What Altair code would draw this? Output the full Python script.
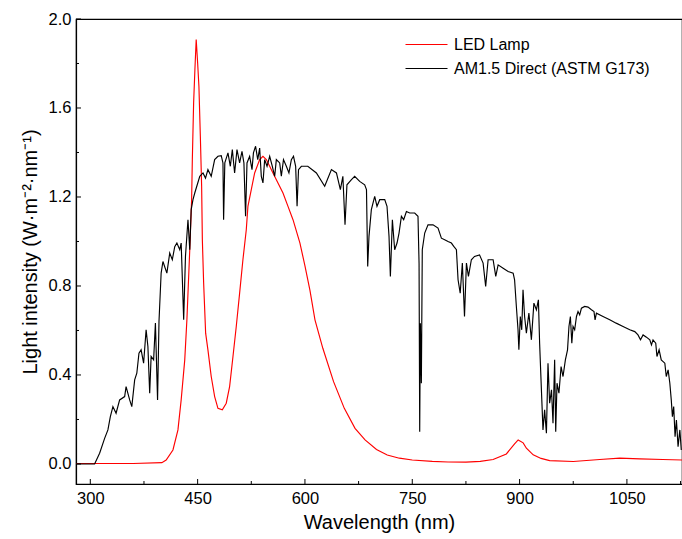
import altair as alt
import pandas as pd

# AM1.5 Direct (ASTM G173)
am_nm = [280, 300, 306, 313, 320, 324.6, 328, 331.6, 336, 341, 348, 350, 355, 358, 362, 365, 368, 371, 374.5, 378,
         380.5, 383, 385, 388.5, 391, 394, 396, 399, 401.5, 407, 411, 414.6, 418, 421, 425, 427, 430.5, 433, 436.5, 439,
         441, 443.5, 446, 453, 457.5, 461, 464.4, 469, 473.8, 478.4, 483, 485.4, 486.3, 488, 492.4, 495.7, 498.5, 501.7, 505, 508.7,
         512, 514.7, 517, 519, 522.7, 526, 528, 531, 534, 536.7, 539, 541.3, 543.7, 547, 550.7, 554.4, 557.7, 560, 564.7, 567,
         570, 574, 577.6, 581, 584, 587, 589, 591, 595, 604, 616, 627.6, 637, 644, 649.5, 653, 656, 658.7, 665, 669.5,
         676.5, 683.5, 686, 687.7, 689.5, 692.8, 697.5, 700.7, 704.5, 711.5, 714.7, 717.5, 719.4, 722.2, 725.4, 728.7, 731.5, 734.8, 738, 741.8,
         746.4, 753.4, 758, 759.5, 760.4, 761.3, 762.7, 764, 767.4, 772, 779, 786, 790.7, 795.3, 800, 804.7, 808, 811.7, 814, 817,
         820, 823, 825.7, 828.5, 832.6, 837, 844, 849, 852.6, 856, 863, 866.7, 870, 877, 884, 891, 893, 895.5, 897.8, 899,
         901, 903, 904.8, 907, 909.5, 913, 916.5, 920, 923.5, 926.3, 928, 930.5, 932.7, 935, 937.5, 939.7, 942, 944.6, 946.7, 949,
         950.5, 952.3, 955, 958, 960.7, 964, 967, 969, 971, 973, 974.7, 977, 979.5, 981.7, 984, 986.4, 991, 995.7, 1000.4, 1004,
         1005.5, 1007.4, 1016.6, 1026, 1035, 1044.6, 1054, 1061, 1065.5, 1069, 1072.6, 1077.3, 1082, 1084.3, 1086.5, 1090.3, 1092, 1095, 1098, 1103,
         1105, 1107.6, 1110, 1112, 1113.6, 1115.4, 1117.3, 1119.2, 1121.5, 1124, 1126]
am_val = [0.0, 0.0, 0.0, 0.048, 0.115, 0.153, 0.213, 0.258, 0.228, 0.288, 0.303, 0.348, 0.288, 0.258, 0.378, 0.408, 0.498, 0.513, 0.453, 0.603,
          0.528, 0.318, 0.483, 0.468, 0.633, 0.288, 0.64, 0.858, 0.91, 0.858, 0.948, 0.918, 0.977, 0.993, 0.963, 0.993, 0.648, 0.933, 1.098, 0.963,
          1.143, 1.188, 1.218, 1.293, 1.308, 1.285, 1.323, 1.293, 1.368, 1.383, 1.386, 1.353, 1.098, 1.353, 1.398, 1.338, 1.413, 1.308, 1.413, 1.353,
          1.405, 1.353, 1.113, 1.353, 1.383, 1.323, 1.398, 1.428, 1.368, 1.42, 1.293, 1.263, 1.368, 1.338, 1.383, 1.338, 1.293, 1.368, 1.353, 1.293,
          1.368, 1.338, 1.308, 1.368, 1.383, 1.338, 1.158, 1.323, 1.338, 1.338, 1.308, 1.248, 1.323, 1.308, 1.233, 1.293, 1.075, 1.255, 1.278, 1.293,
          1.27, 1.255, 1.233, 0.888, 1.023, 1.143, 1.203, 1.158, 1.188, 1.188, 1.158, 1.023, 0.843, 1.098, 0.963, 0.993, 1.038, 1.113, 1.098, 1.135,
          1.128, 1.128, 1.113, 0.9, 0.145, 0.633, 0.363, 0.963, 1.038, 1.075, 1.075, 1.06, 1.015, 1.008, 1.0, 0.993, 0.978, 0.963, 0.828, 0.768,
          0.903, 0.663, 0.903, 0.843, 0.918, 0.933, 0.94, 0.903, 0.798, 0.918, 0.918, 0.843, 0.895, 0.88, 0.865, 0.858, 0.828, 0.708, 0.603, 0.513,
          0.663, 0.603, 0.783, 0.663, 0.588, 0.678, 0.558, 0.723, 0.693, 0.738, 0.543, 0.333, 0.153, 0.243, 0.138, 0.453, 0.273, 0.333, 0.183, 0.468,
          0.145, 0.363, 0.318, 0.438, 0.393, 0.468, 0.513, 0.618, 0.663, 0.543, 0.618, 0.603, 0.663, 0.685, 0.67, 0.7, 0.708, 0.705, 0.693, 0.685,
          0.648, 0.678, 0.663, 0.648, 0.633, 0.618, 0.603, 0.595, 0.58, 0.558, 0.58, 0.57, 0.558, 0.535, 0.558, 0.543, 0.483, 0.513, 0.468, 0.453,
          0.393, 0.423, 0.363, 0.288, 0.213, 0.258, 0.123, 0.198, 0.078, 0.153, 0.063]

# LED lamp
led_nm = [280, 320, 360, 400, 406, 415.5, 422.5, 427, 432, 435, 439, 441.6, 442.6, 444.4, 446.2, 448, 450, 451.8, 453.8, 455.6,
          456.6, 458.4, 461.2, 464.4, 469, 473.8, 478.4, 484.5, 490, 494.7, 499.4, 504, 508.7, 513.3, 518, 520.3, 525, 529.7, 536.7, 541.3,
          546, 550.7, 555.3, 562.3, 569.3, 576.3, 583.3, 593, 600, 607, 614, 625, 640, 655, 670, 684, 700, 715, 732, 750,
          778, 800, 825, 845, 863, 881.5, 893, 898, 905, 909.5, 919, 930, 942, 975, 1012, 1040, 1068, 1100, 1127]
led_val = [0.002, 0.002, 0.002, 0.006, 0.018, 0.063, 0.153, 0.288, 0.468, 0.648, 0.963, 1.188, 1.368, 1.623, 1.773, 1.908, 1.803, 1.698, 1.473, 1.248,
           1.008, 0.813, 0.588, 0.513, 0.393, 0.303, 0.25, 0.243, 0.273, 0.348, 0.483, 0.618, 0.768, 0.918, 1.053, 1.158, 1.233, 1.308, 1.368, 1.383,
           1.368, 1.338, 1.308, 1.263, 1.218, 1.158, 1.098, 0.993, 0.89, 0.78, 0.648, 0.52, 0.37, 0.25, 0.16, 0.108, 0.065, 0.04, 0.026, 0.018,
           0.012, 0.009, 0.008, 0.012, 0.02, 0.045, 0.09, 0.108, 0.095, 0.071, 0.041, 0.025, 0.015, 0.011, 0.02, 0.026, 0.023, 0.02, 0.018]

series_names = ["LED Lamp", "AM1.5 Direct (ASTM G173)"]
series_colors = ["#ff0000", "#000000"]

x_major = [300, 450, 600, 750, 900, 1050]
x_minor = [375, 525, 675, 825, 975, 1125]
y_major = [0.0, 0.4, 0.8, 1.2, 1.6, 2.0]
y_minor = [0.2, 0.6, 1.0, 1.4, 1.8]

FONT = "Liberation Sans"
W, H = 606, 465

df = pd.concat([
    pd.DataFrame({"nm": led_nm, "val": led_val, "series": series_names[0], "order": range(len(led_nm))}),
    pd.DataFrame({"nm": am_nm, "val": am_val, "series": series_names[1], "order": range(len(am_nm))}),
])

xscale = alt.Scale(domain=[280, 1127], nice=False, zero=False)
yscale = alt.Scale(domain=[-0.09, 2.0], nice=False, zero=False)

lines = alt.Chart(df).mark_line(strokeWidth=1.15, clip=True).encode(
    x=alt.X("nm:Q", scale=xscale,
            axis=alt.Axis(values=x_major, format="d", title="Wavelength (nm)", ticks=False, labelPadding=6,
                          titleY=38, titleBaseline="middle", grid=False)),
    y=alt.Y("val:Q", scale=yscale,
            axis=alt.Axis(values=y_major, format=".1f", title="Light intensity (W·m⁻²·nm⁻¹)", ticks=False,
                          labelPadding=5, titleX=-46, titleY=H / 2, titleAngle=-90, titleBaseline="middle",
                          titleAlign="center", grid=False)),
    color=alt.Color("series:N", scale=alt.Scale(domain=series_names, range=series_colors),
                    legend=alt.Legend(title=None, orient="none", legendX=339, legendY=14,
                                      symbolType="M-2,0L2,0", symbolSize=441, symbolStrokeWidth=1.2,
                                      labelFontSize=16, labelFont=FONT, rowPadding=4, labelOffset=16,
                                      labelLimit=0, padding=0)),
    order="order:Q",
)

ymaj = alt.Chart(pd.DataFrame({"v": y_major})).mark_rule(color="black", strokeWidth=1).encode(
    y=alt.Y("v:Q", scale=yscale), x=alt.value(0), x2=alt.value(5))
ymin = alt.Chart(pd.DataFrame({"v": y_minor})).mark_rule(color="black", strokeWidth=1).encode(
    y=alt.Y("v:Q", scale=yscale), x=alt.value(0), x2=alt.value(3))
xmaj = alt.Chart(pd.DataFrame({"v": x_major})).mark_rule(color="black", strokeWidth=1).encode(
    x=alt.X("v:Q", scale=xscale), y=alt.value(H), y2=alt.value(H - 5))
xmin = alt.Chart(pd.DataFrame({"v": x_minor})).mark_rule(color="black", strokeWidth=1).encode(
    x=alt.X("v:Q", scale=xscale), y=alt.value(H), y2=alt.value(H - 3))

chart = alt.layer(lines, ymaj, ymin, xmaj, xmin).properties(
    width=W, height=H,
    autosize=alt.AutoSizeParams(type="none"),
    padding={"left": 76, "top": 19, "right": 0, "bottom": 55},
    background="white",
).configure_view(stroke="black", strokeWidth=1.2).configure_axis(
    labelFont=FONT, titleFont=FONT, labelFontSize=16.5, titleFontSize=20, titleFontWeight="normal",
    labelColor="black", titleColor="black", domainColor="black", domainWidth=1.2,
)

chart.save("out.html", embed_options={"renderer": "svg", "actions": False})
